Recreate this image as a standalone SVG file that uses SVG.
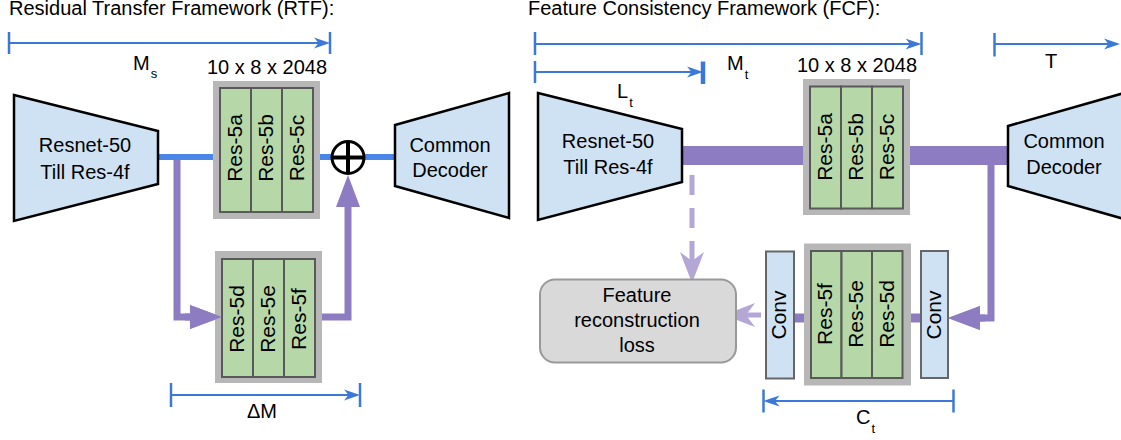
<svg xmlns="http://www.w3.org/2000/svg" width="1121" height="440" viewBox="0 0 1121 440">
<style>
text{font-family:"Liberation Sans",Arial,sans-serif;fill:#000;font-size:20px}
.mid{text-anchor:middle}
.rot{font-size:21px;text-anchor:middle}
.sub{font-size:13px}
.gray{fill:#b7b7b7}
.cell{fill:#b6d7a8;stroke:#595959;stroke-width:2}
.conv{fill:#cfe2f3;stroke:#666;stroke-width:2}
.trap{fill:#cfe2f3;stroke:#000;stroke-width:2.5;stroke-linejoin:miter}
.dim{stroke:#3c78d8;stroke-width:2.2;fill:none}
.tick{stroke:#3c78d8;stroke-width:2.5}
.blue{stroke:#4a86e8;stroke-width:6;fill:none}
.pur{stroke:#8e7cc3;stroke-width:7;fill:none;stroke-linejoin:miter}
.purbar{stroke:#8e7cc3;stroke-width:19;fill:none}
.purshort{stroke:#8e7cc3;stroke-width:9;fill:none}
.lpur{stroke:#b4a7d6;stroke-width:5;fill:none}
</style>
<defs>
<marker id="dimArrow" markerUnits="userSpaceOnUse" viewBox="0 0 16 12" refX="12" refY="6" markerWidth="16" markerHeight="12" orient="auto">
<path d="M0,0.5 L16,6 L0,11.5 L4.5,6 Z" fill="#3c78d8"/>
</marker>
<marker id="purArrow" markerUnits="userSpaceOnUse" viewBox="0 0 32 24" refX="0" refY="12" markerWidth="32" markerHeight="24" orient="auto">
<path d="M0,0 L32,12 L0,24 Z" fill="#8e7cc3"/>
</marker>
<marker id="lpurArrow" markerUnits="userSpaceOnUse" viewBox="0 0 31 24" refX="9" refY="12" markerWidth="31" markerHeight="24" orient="auto">
<path d="M0,0 L31,12 L0,24 L9,12 Z" fill="#b4a7d6"/>
</marker>
</defs>

<!-- titles -->
<text x="9" y="15">Residual Transfer Framework (RTF):</text>
<text x="528" y="15">Feature Consistency Framework (FCF):</text>

<!-- dimension annotations -->
<g id="dimensions">
<line class="tick" x1="9" y1="32" x2="9" y2="54"/>
<line class="tick" x1="330" y1="32" x2="330" y2="54"/>
<path class="dim" d="M9,43 H326" marker-end="url(#dimArrow)"/>
<text x="133" y="70">M<tspan class="sub" dx="1" dy="8">s</tspan></text>
<text class="mid" x="267" y="74">10 x 8 x 2048</text>

<line class="tick" x1="171" y1="383" x2="171" y2="407"/>
<line class="tick" x1="360" y1="383" x2="360" y2="407"/>
<path class="dim" d="M171,395 H356" marker-end="url(#dimArrow)"/>
<text class="mid" x="262" y="418">ΔM</text>

<line class="tick" x1="535" y1="32" x2="535" y2="55"/>
<line class="tick" x1="921.5" y1="32" x2="921.5" y2="55"/>
<path class="dim" d="M535,44 H917.5" marker-end="url(#dimArrow)"/>
<line class="tick" x1="535" y1="61" x2="535" y2="83"/>
<line class="tick" x1="703" y1="61.5" x2="703" y2="84" style="stroke-width:4.5"/>
<path class="dim" d="M535,72 H699" marker-end="url(#dimArrow)"/>
<text x="617" y="98">L<tspan class="sub" dx="1" dy="9">t</tspan></text>
<text x="727" y="70">M<tspan class="sub" dx="1" dy="9">t</tspan></text>
<text class="mid" x="857" y="72">10 x 8 x 2048</text>

<line class="tick" x1="994.5" y1="33" x2="994.5" y2="56.5"/>
<path class="dim" d="M994.5,44 H1116" marker-end="url(#dimArrow)"/>
<text class="mid" x="1051" y="68">T</text>

<line class="tick" x1="763.5" y1="389.5" x2="763.5" y2="412.5"/>
<line class="tick" x1="953.5" y1="389.5" x2="953.5" y2="412.5"/>
<path class="dim" d="M953.5,401 H767.5" marker-end="url(#dimArrow)"/>
<text x="856" y="424">C<tspan class="sub" dx="1" dy="9">t</tspan></text>
</g>

<!-- connectors (thick bars under nodes) -->
<g id="connectors">
<path class="blue" d="M158,157 H213"/>
<path class="blue" d="M320,157 H395"/>
<path class="purbar" d="M682,155.5 H803"/>
<path class="purbar" d="M910,155.5 H1008"/>
<path class="pur" d="M177,160 V317 H190" marker-end="url(#purArrow)"/>
<path class="pur" d="M322,317 H348 V207" marker-end="url(#purArrow)"/>
<path class="pur" d="M991,165 V318 H980" marker-end="url(#purArrow)"/>
<path class="purshort" d="M910,318 H921"/>
<path class="purshort" d="M794,318 H804"/>
<path class="lpur" d="M761,315 H746" marker-end="url(#lpurArrow)"/>
<path class="lpur" d="M692,175 V261" stroke-dasharray="20 13" marker-end="url(#lpurArrow)"/>
</g>

<!-- RTF nodes -->
<g id="rtf-encoder">
<polygon class="trap" points="14,95 158,131 158,184 14,221"/>
<text class="mid" x="85" y="152">Resnet-50</text>
<text class="mid" x="85" y="179">Till Res-4f</text>
</g>
<g id="rtf-res5abc">
<rect class="gray" x="213" y="81" width="107" height="138"/>
<rect class="cell" x="220" y="88" width="31" height="124"/>
<rect class="cell" x="251" y="88" width="31" height="124"/>
<rect class="cell" x="282" y="88" width="31" height="124"/>
<text class="rot" transform="translate(235.5,148) rotate(-90)" y="6">Res-5a</text>
<text class="rot" transform="translate(266.5,148) rotate(-90)" y="6">Res-5b</text>
<text class="rot" transform="translate(297.5,148) rotate(-90)" y="6">Res-5c</text>
</g>
<g id="rtf-res5def">
<rect class="gray" x="215" y="251" width="107" height="132"/>
<rect class="cell" x="222" y="259" width="31" height="118"/>
<rect class="cell" x="253" y="259" width="31" height="118"/>
<rect class="cell" x="284" y="259" width="31" height="118"/>
<text class="rot" transform="translate(237.5,319) rotate(-90)" y="6">Res-5d</text>
<text class="rot" transform="translate(268.5,319) rotate(-90)" y="6">Res-5e</text>
<text class="rot" transform="translate(299.5,319) rotate(-90)" y="6">Res-5f</text>
</g>
<g id="rtf-sum">
<circle cx="348" cy="157.5" r="16" fill="#fff" stroke="#000" stroke-width="3"/>
<line x1="348" y1="141.5" x2="348" y2="173.5" stroke="#000" stroke-width="4"/>
<line x1="332" y1="157.5" x2="364" y2="157.5" stroke="#000" stroke-width="4"/>
</g>
<g id="rtf-decoder">
<polygon class="trap" points="395,125 509,93 509,218 395,186"/>
<text class="mid" x="450" y="152">Common</text>
<text class="mid" x="450" y="177">Decoder</text>
</g>

<!-- FCF nodes -->
<g id="fcf-encoder">
<polygon class="trap" points="538,93 682,129 682,182 538,220"/>
<text class="mid" x="608" y="148">Resnet-50</text>
<text class="mid" x="608" y="174">Till Res-4f</text>
</g>
<g id="fcf-res5abc">
<rect class="gray" x="803" y="79" width="107" height="136"/>
<rect class="cell" x="810" y="86.5" width="31" height="122"/>
<rect class="cell" x="841" y="86.5" width="31" height="122"/>
<rect class="cell" x="872" y="86.5" width="31" height="122"/>
<text class="rot" transform="translate(825.5,147) rotate(-90)" y="6">Res-5a</text>
<text class="rot" transform="translate(856.5,147) rotate(-90)" y="6">Res-5b</text>
<text class="rot" transform="translate(887.5,147) rotate(-90)" y="6">Res-5c</text>
</g>
<g id="fcf-decoder">
<polygon class="trap" points="1008,126 1124,93 1124,219 1008,186"/>
<text class="mid" x="1064" y="148">Common</text>
<text class="mid" x="1064" y="174">Decoder</text>
</g>
<g id="fcf-conv-right">
<rect class="conv" x="921" y="251" width="27" height="127"/>
<text class="rot" transform="translate(934.5,315) rotate(-90)" y="6">Conv</text>
</g>
<g id="fcf-res5fed">
<rect class="gray" x="804" y="243.5" width="107" height="142"/>
<rect class="cell" x="811" y="251" width="30.5" height="127"/>
<rect class="cell" x="841.5" y="251" width="30.5" height="127"/>
<rect class="cell" x="872" y="251" width="30.5" height="127"/>
<text class="rot" transform="translate(826,314) rotate(-90)" y="6">Res-5f</text>
<text class="rot" transform="translate(857,314) rotate(-90)" y="6">Res-5e</text>
<text class="rot" transform="translate(887.5,314) rotate(-90)" y="6">Res-5d</text>
</g>
<g id="fcf-conv-left">
<rect class="conv" x="766" y="251.5" width="28" height="127"/>
<text class="rot" transform="translate(780,315) rotate(-90)" y="6">Conv</text>
</g>
<g id="fcf-loss">
<rect x="540" y="279.5" width="196" height="83" rx="15" fill="#d9d9d9" stroke="#999" stroke-width="2"/>
<text class="mid" x="637" y="302">Feature</text>
<text class="mid" x="637" y="327">reconstruction</text>
<text class="mid" x="637" y="352">loss</text>
</g>

<!-- arrowheads touching nodes drawn on top -->
<g id="connectors-top">
<path class="pur" d="M185,317 H190" marker-end="url(#purArrow)"/>
<path class="pur" d="M985,318 H980" marker-end="url(#purArrow)"/>
</g>
</svg>
